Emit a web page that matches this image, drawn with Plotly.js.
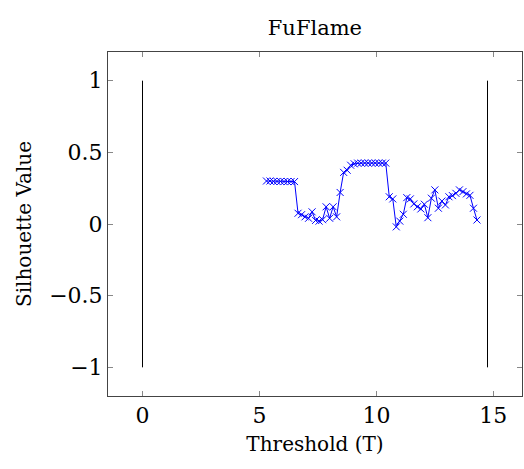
<!DOCTYPE html>
<html>
<head>
<meta charset="utf-8">
<script src="https://cdn.plot.ly/plotly-3.0.1.min.js"></script>
<style>html,body{margin:0;padding:0;background:#fff;}#chart{width:524px;height:469px;}</style>
</head>
<body>
<div id="chart"></div>
<script>
const thresholds = [5.3,5.45,5.6,5.75,5.9,6.05,6.2,6.35,6.5,
  6.65,6.8,6.95,7.1,7.25,7.4,7.55,7.7,7.85,8.0,8.15,8.3,8.45,8.6,8.75,8.9,9.05,
  9.2,9.35,9.5,9.65,9.8,9.95,10.1,10.25,10.4,
  10.55,10.7,10.85,11.0,11.15,11.3,11.45,11.6,11.75,11.9,12.05,12.2,12.35,12.5,
  12.65,12.8,12.95,13.1,13.25,13.4,13.55,13.7,13.85,14.0,14.15,14.3];
const silhouette = [0.30,0.30,0.297,0.297,0.297,0.296,0.296,0.296,0.296,
  0.075,0.065,0.05,0.04,0.085,0.025,0.02,0.03,0.12,0.04,0.12,0.05,0.22,0.36,0.375,0.41,0.42,
  0.425,0.425,0.425,0.425,0.425,0.425,0.425,0.425,0.425,
  0.19,0.175,-0.02,0.02,0.068,0.184,0.175,0.14,0.12,0.105,0.138,0.044,0.18,0.238,
  0.11,0.16,0.133,0.19,0.198,0.214,0.238,0.226,0.21,0.2,0.11,0.028];
const boundLeftX = [0,0];
const boundRightX = [14.75,14.75];
const boundY = [-1,1];
const xTicks = [0,5,10,15];
const yTicks = [-1,-0.5,0,0.5,1];

const font = "'DejaVu Serif', serif";
const traces = [
  {x: thresholds, y: silhouette, type:'scatter', mode:'lines+markers',
   line:{color:'#0000ff', width:1},
   marker:{symbol:'x-thin', size:7, line:{color:'#0000ff', width:1}, color:'#0000ff'},
   showlegend:false},
  {x: boundLeftX, y: boundY, type:'scatter', mode:'lines', line:{color:'#000', width:1}, showlegend:false},
  {x: boundRightX, y: boundY, type:'scatter', mode:'lines', line:{color:'#000', width:1}, showlegend:false}
];
const layout = {
  width:524, height:469,
  margin:{l:108, r:2, t:52, b:73},
  paper_bgcolor:'#fff', plot_bgcolor:'#fff',
  font:{family:font, size:20, color:'#000'},
  title:{text:'FuFlame', font:{family:font, size:21, color:'#000'}, x:0.601, xanchor:'center', y:1-28/469, yanchor:'middle', yref:'container'},
  xaxis:{range:[-1.475,16.225], tickvals:xTicks, ticktext:xTicks.map(String), ticks:'inside', ticklen:5, tickcolor:'#888',
    showline:true, linecolor:'#444', linewidth:1, mirror:'ticks', showgrid:false, zeroline:false,
    tickfont:{family:font, size:22}, title:{text:'Threshold (T)', font:{family:font, size:20}, standoff:9}},
  yaxis:{range:[-1.2,1.2], tickvals:yTicks, ticks:'inside', ticklen:5, tickcolor:'#888',
    showline:true, linecolor:'#444', linewidth:1, mirror:'ticks', showgrid:false, zeroline:false,
    tickfont:{family:font, size:22}, title:{text:'Silhouette Value', font:{family:font, size:20}, standoff:12}}
};
Plotly.newPlot('chart', traces, layout, {displayModeBar:false, staticPlot:true});
</script>
</body>
</html>
